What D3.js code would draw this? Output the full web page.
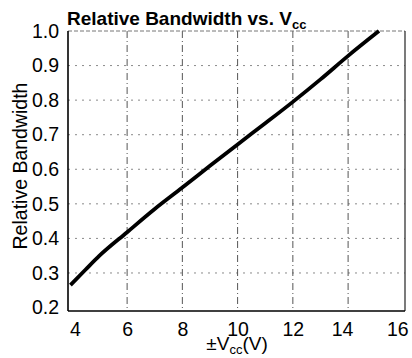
<!DOCTYPE html>
<html><head><meta charset="utf-8">
<script src="https://cdn.jsdelivr.net/npm/d3@7"></script>
<style>
html,body{margin:0;padding:0;background:#fff;}
text{font-family:"Liberation Sans",Arial,sans-serif;}
</style></head>
<body>
<svg id="c" width="412" height="358"></svg>
<script>
const vcc = [3.95, 4.5, 5, 6, 7, 8, 9, 10, 11, 12, 13, 14, 15.12];
const bandwidth = [0.265, 0.31, 0.35, 0.418, 0.485, 0.547, 0.61, 0.672, 0.733, 0.795, 0.86, 0.928, 1.0];
const xTicks = [4, 6, 8, 10, 12, 14, 16];
const yTicks = [0.2, 0.3, 0.4, 0.5, 0.6, 0.7, 0.8, 0.9, 1.0];

const svg = d3.select("#c");
const L = 68, R = 405, T = 31, B = 311;
const x = d3.scaleLinear().domain([3.86, 16.06]).range([L, R]);
const y = d3.scaleLinear().domain([0.19, 1.0]).range([B, T]);

// grid
svg.append("g").selectAll("line").data(yTicks.filter(d => d > 0.25 && d < 0.95)).join("line")
  .attr("x1", L).attr("x2", R).attr("y1", d => y(d)).attr("y2", d => y(d))
  .attr("stroke", "#8a8a8a").attr("stroke-width", 1).attr("stroke-dasharray", "2,5");
svg.append("g").selectAll("line").data(xTicks.filter(d => d > 4 && d < 16)).join("line")
  .attr("y1", T).attr("y2", B).attr("x1", d => x(d)).attr("x2", d => x(d))
  .attr("stroke", "#555").attr("stroke-width", 1).attr("stroke-dasharray", "7,3,1,3");

// frame
svg.append("line").attr("x1", L).attr("x2", R).attr("y1", T).attr("y2", T)
  .attr("stroke", "#777").attr("stroke-width", 1).attr("stroke-dasharray", "4,2");
svg.append("line").attr("x1", R).attr("x2", R).attr("y1", T).attr("y2", B)
  .attr("stroke", "#333").attr("stroke-width", 1.3);

const xAxis = d3.axisBottom(x).tickValues(xTicks).tickSize(0).tickPadding(11).tickFormat(d3.format("d"));
const gx = svg.append("g").attr("transform", `translate(0,${B})`).call(xAxis);
gx.select(".domain").attr("stroke", "#000").attr("stroke-width", 1.6).attr("d", `M${L},0H${R}`);
gx.selectAll("text").attr("font-size", 19.5).attr("fill", "#000").attr("font-family", "Liberation Sans, Arial, sans-serif")
  .attr("dx", d => d === 16 ? -6 : (d === 4 ? 3 : (d === 14 ? -6 : 0)));

const yAxis = d3.axisLeft(y).tickValues(yTicks).tickSize(0).tickPadding(9).tickFormat(d3.format(".1f"));
const gy = svg.append("g").attr("transform", `translate(${L},0)`).call(yAxis);
gy.select(".domain").attr("stroke", "#000").attr("stroke-width", 1.6).attr("d", `M0,${T}V${B}`);
gy.selectAll("text").attr("font-size", 19.5).attr("fill", "#000").attr("font-family", "Liberation Sans, Arial, sans-serif");

// curve
svg.append("path").datum(vcc.map((v, i) => [v, bandwidth[i]]))
  .attr("fill", "none").attr("stroke", "#000").attr("stroke-width", 3.8)
  .attr("d", d3.line().x(d => x(d[0])).y(d => y(d[1])).curve(d3.curveMonotoneX));

// title
const title = svg.append("text").attr("x", 67).attr("y", 25).attr("font-size", 19).attr("font-weight", "bold");
title.append("tspan").text("Relative Bandwidth vs. V");
title.append("tspan").attr("dy", 4).attr("font-size", 13).text("cc");

// x title
const xt = svg.append("text").attr("x", 237).attr("y", 350).attr("text-anchor", "middle").attr("font-size", 19);
xt.append("tspan").text("±V");
xt.append("tspan").attr("dy", 4).attr("font-size", 13).text("cc");
xt.append("tspan").attr("dy", -4).text("(V)");

// y title
svg.append("text").attr("transform", "translate(27,166) rotate(-90)").attr("text-anchor", "middle")
  .attr("font-size", 19.5).text("Relative Bandwidth");
</script>
</body></html>
